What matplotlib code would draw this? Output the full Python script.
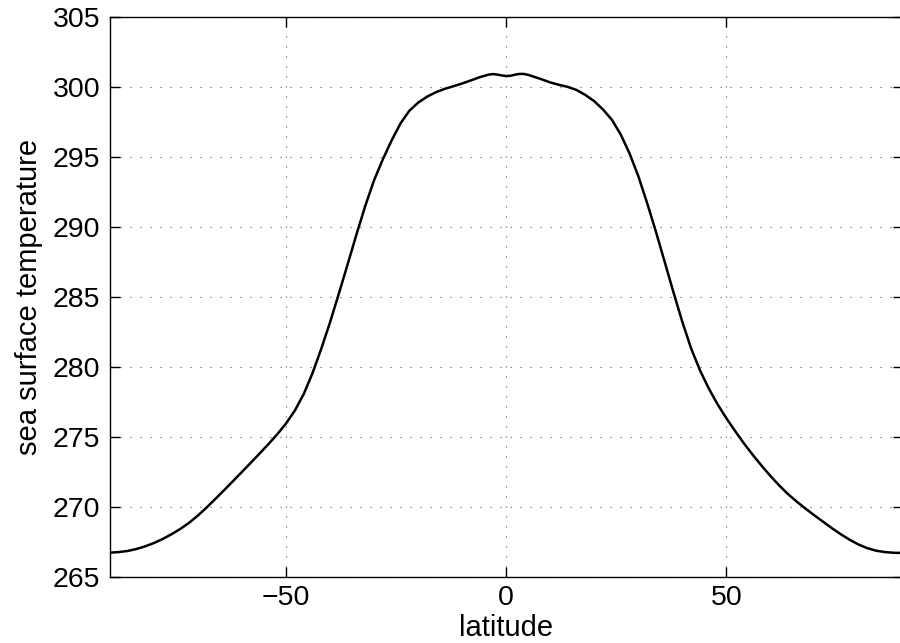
import matplotlib
matplotlib.use("Agg")
import matplotlib.pyplot as plt

# --- data ---
lat = [-90, -88, -86, -84, -82, -80, -78, -76, -74, -72,
       -70, -68, -66, -64, -62, -60, -58, -56, -54, -52,
       -50, -48, -46, -44, -42, -40, -38, -36, -34, -32,
       -30, -28, -26, -24, -22, -20, -18, -16, -14, -12,
       -10, -8, -6, -4, -3, -2, -1, 0, 1, 2,
       3, 4, 5, 6, 8, 10, 12, 14, 16, 18,
       20, 22, 24, 26, 28, 30, 32, 34, 36, 38,
       40, 42, 44, 46, 48, 50, 52, 54, 56, 58,
       60, 62, 64, 66, 68, 70, 72, 74, 76, 78,
       80, 82, 84, 86, 88, 90]
sst = [266.72, 266.76, 266.84, 266.98, 267.17, 267.41, 267.70, 268.04, 268.42, 268.86,
       269.38, 269.96, 270.58, 271.21, 271.85, 272.50, 273.15, 273.81, 274.48, 275.18,
       275.96, 276.88, 278.05, 279.55, 281.30, 283.20, 285.25, 287.35, 289.48, 291.52,
       293.35, 294.85, 296.20, 297.40, 298.30, 298.88, 299.30, 299.62, 299.86, 300.05,
       300.25, 300.47, 300.70, 300.88, 300.92, 300.88, 300.82, 300.78, 300.80, 300.88,
       300.93, 300.93, 300.86, 300.76, 300.55, 300.32, 300.15, 300.00, 299.78, 299.42,
       298.98, 298.38, 297.65, 296.60, 295.25, 293.62, 291.70, 289.65, 287.48, 285.30,
       283.20, 281.30, 279.75, 278.45, 277.32, 276.32, 275.40, 274.52, 273.70, 272.93,
       272.20, 271.52, 270.90, 270.36, 269.86, 269.38, 268.92, 268.46, 268.03, 267.64,
       267.30, 267.04, 266.86, 266.76, 266.71, 266.70]

xticks = [-50, 0, 50]
yticks = [265, 270, 275, 280, 285, 290, 295, 300, 305]

plt.rcParams['font.family'] = ['Liberation Sans', 'DejaVu Sans']

fig = plt.figure(figsize=(9, 6.43), dpi=100)
ax = fig.add_axes([0.1222, 0.1031, 0.8806, 0.8705])

ax.plot(lat, sst, color='black', linewidth=1.8, solid_joinstyle='round')

ax.set_xlim(-90, 90)
ax.set_ylim(265, 305)
ax.set_xticks(xticks)
ax.set_yticks(yticks)
ax.set_xticklabels(['\u221250', '0', '50'])

ax.grid(True, color='0.35', linewidth=0.8, linestyle=(0, (1, 8)))
ax.tick_params(direction='in', length=7, width=1, top=True, right=True,
               labelsize=20.5, pad=7)
ax.tick_params(axis='x', pad=6)
for s in ax.spines.values():
    s.set_linewidth(1.0)

ax.set_xlabel('latitude', fontsize=21, labelpad=2)
ax.set_ylabel('sea surface temperature', fontsize=21, labelpad=7)

fig.savefig('out.png', dpi=100)
